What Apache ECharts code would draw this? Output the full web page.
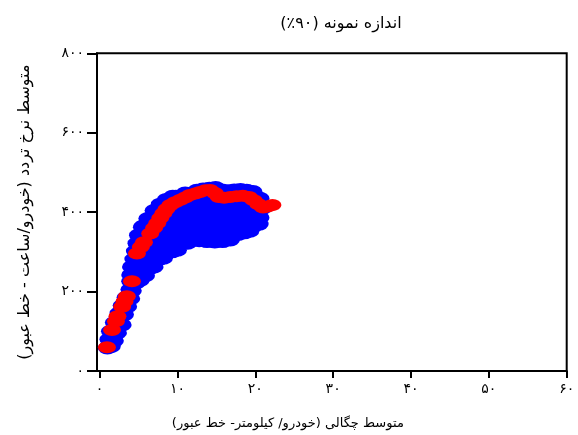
<!DOCTYPE html>
<html dir="rtl">
<head>
<meta charset="utf-8">
<script src="https://cdn.jsdelivr.net/npm/echarts@6/dist/echarts.min.js"></script>
<style>
html,body{margin:0;padding:0;background:#fff;}
#c{width:578px;height:435px;}
</style>
</head>
<body>
<div id="c"></div>
<script>
// ---- data ----
const titleText = 'اندازه نمونه (۹۰٪)';
const xAxisTitle = 'متوسط چگالی (خودرو/ کیلومتر- خط عبور)';
const yAxisTitle = 'متوسط نرخ تردد (خودرو/ساعت - خط عبور)';
const xTicks = [0, 10, 20, 30, 40, 50, 60];
const xTickLabels = ['۰', '۱۰', '۲۰', '۳۰', '۴۰', '۵۰', '۶۰'];
const yTicks = [0, 200, 400, 600, 800];
const yTickLabels = ['۰', '۲۰۰', '۴۰۰', '۶۰۰', '۸۰۰'];

// blue: all samples
const bluePoints = [
  [1.0,58],[1.5,62],[1.2,80],[1.9,76],[1.4,100],[2.3,96],[1.9,122],[2.9,116],
  [2.5,146],[3.2,142],[2.9,165],[3.6,162],[3.4,185],[4.0,182],[3.9,205],[4.2,202],
  [4.0,226],[4.7,222],[5.2,228],
  [4.0,242],[4.7,238],[5.4,236],[5.9,240],
  [4.1,262],[4.8,258],[5.6,256],[6.4,258],[7.0,262],
  [4.4,282],[5.1,278],[5.9,276],[6.7,278],[7.5,280],[8.2,284],
  [4.6,302],[5.3,298],[6.1,296],[6.9,298],[7.7,300],[8.5,302],[9.3,300],[10.0,304],
  [4.8,322],[5.6,318],[6.4,316],[7.2,318],[8.0,320],[8.8,322],[9.6,318],[10.4,320],[11.3,322],
  [12.8,328],[13.8,326],[14.8,325],[15.8,326],[16.8,330],
  [5.0,342],[5.8,338],[6.6,336],[7.4,338],[8.2,340],[9.0,342],[9.8,338],[10.6,340],[11.4,342],[12.2,338],
  [13.0,336],[13.8,338],[14.6,336],[15.4,338],[16.2,340],[17.0,342],[17.8,344],[18.6,348],[19.3,352],
  [5.5,362],[6.3,358],[7.1,356],[7.9,358],[8.7,360],[9.5,362],[10.3,358],[11.1,360],[11.9,362],[12.7,358],
  [13.5,356],[14.3,358],[15.1,360],[15.9,362],[16.7,358],[17.5,360],[18.3,362],[19.1,364],[19.9,366],[20.5,370],
  [6.2,384],[6.9,380],[7.3,378],[7.9,376],[8.7,378],[9.5,380],[10.3,382],[11.1,378],[11.9,380],[12.7,382],[13.5,378],
  [14.3,380],[15.1,382],[15.9,378],[16.7,380],[17.5,382],[18.3,378],[19.1,380],[19.9,382],[20.6,386],
  [7.0,404],[7.6,402],[8.2,398],[8.8,400],[9.6,402],[10.4,398],[11.2,400],[12.0,402],[12.8,398],[13.6,400],[14.4,402],
  [15.2,398],[16.0,400],[16.8,402],[17.6,398],[18.4,400],[19.2,402],[20.0,404],[20.8,408],[21.1,412],
  [7.8,420],[8.8,422],[9.4,418],[10.1,420],[10.9,422],[11.7,418],[12.5,420],[13.3,422],[14.1,418],[14.9,420],[15.7,422],
  [16.5,418],[17.3,420],[18.1,422],[18.9,420],[19.7,424],[20.5,422],
  [8.6,432],[9.4,440],[9.8,440],[10.5,440],[11.3,442],[12.1,438],[12.9,440],[13.7,442],[14.5,438],[15.3,440],[16.1,442],[16.9,440],
  [17.7,442],[18.5,444],[19.3,442],[20.0,440],[20.6,435],
  [5.6,365],[11.0,448],[12.5,455],[13.3,458],[14.1,460],[14.9,462],[15.7,456],[16.5,454],[17.3,456],[18.1,457],[18.9,455],[19.7,452]
];

// red: selected samples
const redPoints = [
  [0.95,60],[1.6,103],[2.1,125],[2.3,138],[2.9,162],[3.2,175],[3.5,188],[4.16,226],
  [4.8,296],[5.3,312],[5.7,324],[6.5,346],[7.0,360],[7.4,372],[7.8,385],[8.2,397],[8.6,408],[9.1,418],
  [9.7,425],[10.4,431],[11.0,437],[11.6,443],[12.3,447],[12.9,451],[13.6,455],[14.2,456],
  [14.8,448],[15.3,438],[16.0,436],[16.8,438],[17.6,440],[18.4,441],[19.2,438],[19.8,430],
  [20.4,420],[21.0,412],[21.6,414],[22.2,418]
];

const FONT = "'DejaVu Sans', sans-serif";
const chart = echarts.init(document.getElementById('c'), null, {renderer: 'canvas'});
chart.setOption({
  animation: false,
  backgroundColor: '#fff',
  title: {
    text: titleText,
    left: 336, top: 11, textAlign: 'center',
    textStyle: {fontFamily: FONT, fontSize: 16, fontWeight: 'normal', color: '#000'}
  },
  grid: {
    left: 97, right: 11.3, top: 53.3, bottom: 64,
    show: true, borderColor: '#000', borderWidth: 2, backgroundColor: 'transparent'
  },
  xAxis: {
    type: 'value', min: -0.33, max: 60,
    name: xAxisTitle, nameLocation: 'middle', nameGap: 46,
    nameTextStyle: {fontFamily: FONT, fontSize: 13, color: '#000', padding: [0, 88, 0, 0]},
    axisLine: {show: true, onZero: false, lineStyle: {color: '#000', width: 2}},
    axisTick: {show: true, inside: false, length: 7, customValues: xTicks, lineStyle: {color: '#000', width: 2}},
    axisLabel: {customValues: xTicks, margin: 11, fontFamily: FONT, fontSize: 14, color: '#000',
      formatter: v => xTickLabels[xTicks.indexOf(Math.round(v))] ?? ''},
    splitLine: {show: false}
  },
  yAxis: {
    type: 'value', min: 0, max: 800, interval: 200,
    name: yAxisTitle, nameLocation: 'middle', nameGap: 64, nameRotate: 90,
    nameTextStyle: {fontFamily: FONT, fontSize: 16, color: '#000'},
    axisLine: {show: true, onZero: false, lineStyle: {color: '#000', width: 2}},
    axisTick: {show: true, inside: false, length: 10, lineStyle: {color: '#000', width: 2}},
    axisLabel: {margin: 13, fontFamily: FONT, fontSize: 14, color: '#000',
      formatter: v => yTickLabels[yTicks.indexOf(Math.round(v))] ?? ''},
    splitLine: {show: false}
  },
  series: [
    {type: 'scatter', data: bluePoints, symbol: 'circle', symbolSize: [19, 13],
     itemStyle: {color: '#0000ff', opacity: 1}, silent: true},
    {type: 'scatter', data: redPoints, symbol: 'circle', symbolSize: [18, 12],
     itemStyle: {color: '#ff0000', opacity: 1}, silent: true}
  ]
});
</script>
</body>
</html>
